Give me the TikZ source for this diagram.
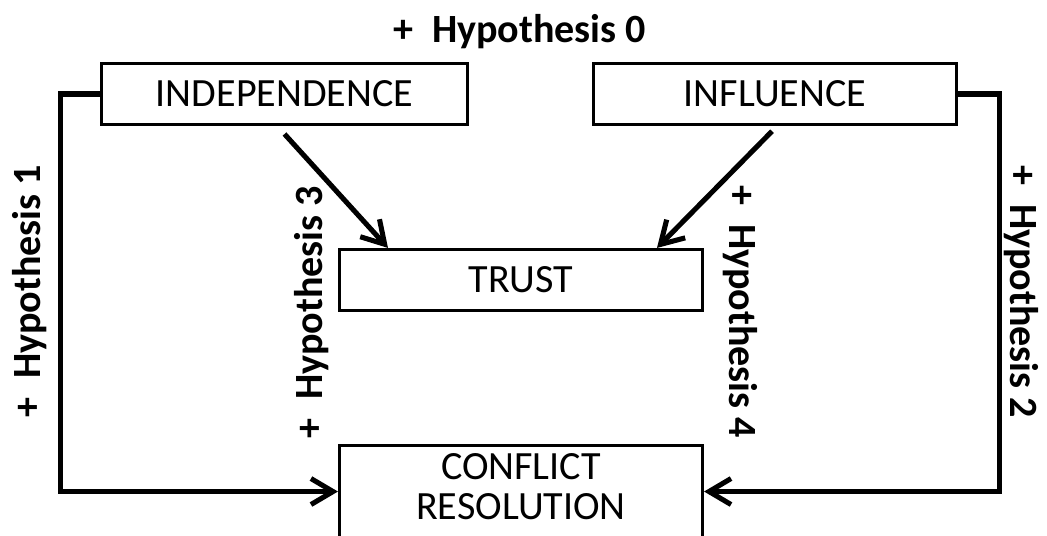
\documentclass[tikz,border=0pt]{standalone}
\usepackage{fontspec}
\setmainfont{Carlito}
\usetikzlibrary{arrows.meta}

\begin{document}
\begin{tikzpicture}[
    box/.style={draw, line width=2.2pt, minimum height=1.525cm, inner sep=0pt,
      font=\fontsize{28.5}{28.5}\selectfont},
    link/.style={line width=3.6pt, -{Straight Barb[length=0.55cm,width=0.65cm]}},
    hyp/.style={font=\fontsize{28.5}{28.5}\selectfont\bfseries, anchor=base, inner sep=0pt}]
    \useasboundingbox (0,0) rectangle (26.175,13.4);
    \node [box, minimum width=9.15cm] (indep) at (7.1125,11.05) {INDEPENDENCE};
    \node [box, minimum width=9.075cm] (infl) at (19.375,11.05) {INFLUENCE};
    \node [box, minimum width=9.075cm] (trust) at (13.025,6.4) {TRUST};
    \node [box, minimum width=9.075cm, minimum height=2.7cm, anchor=north] (conflict) at (13.025,2.31) {};
    \node [font=\fontsize{28.5}{28.5}\selectfont, align=center, yshift=-1.07cm] (conflicttext) at (conflict.north) {CONFLICT\\RESOLUTION};
    \draw [link] (indep.west) -- ++(-0.975,0) |- ([yshift=0.19cm]conflict.west);
    \draw [link] (infl.east) -- ++(1.03,0) |- ([yshift=0.19cm]conflict.east);
    \draw [link] ([yshift=-0.2cm]indep.south) -- ([xshift=-3.325cm]trust.north);
    \draw [link] ([xshift=-0.075cm,yshift=-0.13cm]infl.south) -- ([xshift=3.4cm]trust.north);
    \node [hyp] (hyp0) at (13.0,12.325) {+\ \ Hypothesis 0};
    \node [hyp, rotate=90] (hyp1) at (1.0,6.125) {+\ \ Hypothesis 1};
    \node [hyp, rotate=90] (hyp3) at (8.05,5.6) {+\ \ Hypothesis 3};
    \node [hyp, rotate=-90] (hyp4) at (18.225,5.6) {+\ \ Hypothesis 4};
    \node [hyp, rotate=-90] (hyp2) at (25.25,6.1) {+\ \ Hypothesis 2};
\end{tikzpicture}
\end{document}
